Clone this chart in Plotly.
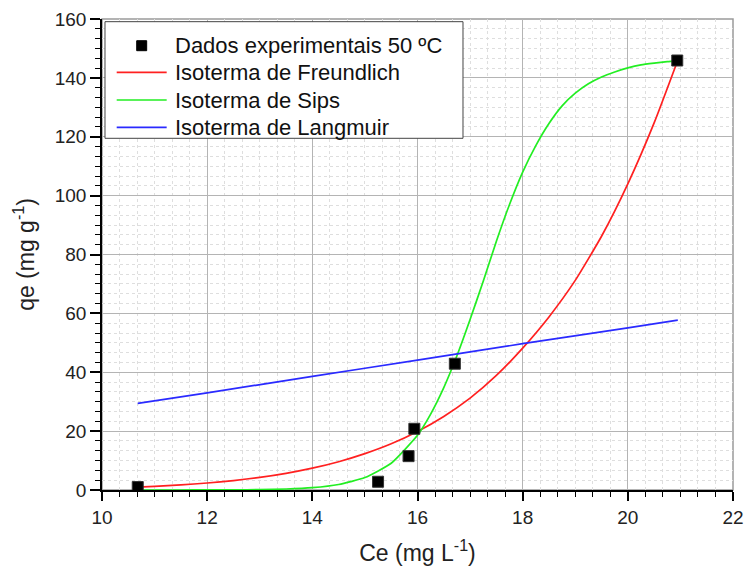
import plotly.graph_objects as go

# Experimental data (50 ºC)
ce_exp = [10.68, 15.25, 15.83, 15.94, 16.71, 20.94]
qe_exp = [1.0, 2.8, 11.5, 20.8, 42.9, 145.9]

# Freundlich fit
ce_fr = [10.68, 11.0, 11.5, 12.0, 12.5, 13.0, 13.5, 14.0, 14.5, 15.0, 15.5, 16.0,
         16.5, 17.0, 17.5, 18.0, 18.5, 19.0, 19.5, 20.0, 20.5, 20.95]
qe_fr = [1.0, 1.24, 1.73, 2.37, 3.21, 4.28, 5.66, 7.41, 9.61, 12.35, 15.7, 19.9,
         25.0, 31.2, 38.9, 48.2, 58.8, 71.2, 86.2, 104.0, 124.7, 146.0]

# Sips fit
ce_sips = [10.68, 11.0, 11.5, 12.0, 12.5, 13.0, 13.5, 14.0, 14.5, 15.0, 15.5, 16.0,
           16.25, 16.5, 16.75, 17.0, 17.25, 17.5, 17.75, 18.0, 18.25, 18.5, 18.75,
           19.0, 19.25, 19.5, 19.75, 20.0, 20.25, 20.5, 20.75, 20.95]
qe_sips = [0.0, 0.0, 0.0, 0.02, 0.05, 0.13, 0.34, 0.79, 1.86, 4.23, 9.1, 18.6,
           25.8, 34.8, 45.6, 57.9, 70.9, 84.5, 97.0, 108.0, 117.0, 124.5, 130.5,
           134.8, 138.0, 140.3, 142.0, 143.4, 144.4, 145.0, 145.5, 145.8]

# Langmuir fit
ce_lang = [10.68, 12.0, 14.0, 16.0, 18.0, 20.0, 20.95]
qe_lang = [29.4, 33.0, 38.6, 44.1, 49.7, 55.1, 57.7]

# Legend labels and colours
legend_labels = ["Dados experimentais 50 ºC", "Isoterma de Freundlich",
                 "Isoterma de Sips", "Isoterma de Langmuir"]
legend_colors = ["black", "#ff2020", "#22ee22", "#2a2aff"]

FONT = "Liberation Sans, Arial, sans-serif"

fig = go.Figure()
fig.add_trace(go.Scatter(x=ce_fr, y=qe_fr, mode="lines", name=legend_labels[1],
                         line=dict(color=legend_colors[1], width=1.7, shape="spline", smoothing=0.5)))
fig.add_trace(go.Scatter(x=ce_sips, y=qe_sips, mode="lines", name=legend_labels[2],
                         line=dict(color=legend_colors[2], width=1.7, shape="spline", smoothing=0.5)))
fig.add_trace(go.Scatter(x=ce_lang, y=qe_lang, mode="lines", name=legend_labels[3],
                         line=dict(color=legend_colors[3], width=1.7, shape="spline", smoothing=0.5)))
fig.add_trace(go.Scatter(x=ce_exp, y=qe_exp, mode="markers", name=legend_labels[0],
                         marker=dict(symbol="square", size=11, color="black",
                                     line=dict(color="#333", width=1))))

axis_common = dict(
    showline=True, linecolor="black", linewidth=1.5,
    ticks="outside", tickwidth=1.5, tickcolor="black",
    showgrid=True, gridcolor="#b4b4b4", gridwidth=1,
    zeroline=False, ticklabeloverflow="allow", automargin=False,
    tickfont=dict(family=FONT, size=19, color="#222"),
)

minor_common = dict(ticks="outside", ticklen=5, tickwidth=1.2, tickcolor="black",
                    showgrid=True, gridcolor="#dedede", griddash="3px,3px", gridwidth=1)

fig.update_xaxes(
    range=[10, 22], tick0=10, dtick=2, ticklen=9,
    title=dict(text="Ce (mg L<sup>-1</sup>)", font=dict(family=FONT, size=23, color="#222"), standoff=22),
    minor=dict(tick0=10, dtick=2/6, **minor_common),
    **axis_common,
)
fig.update_yaxes(
    range=[0, 160], tick0=0, dtick=20, ticklen=10,
    title=dict(text="qe (mg g<sup>-1</sup>)", font=dict(family=FONT, size=23, color="#222"), standoff=14),
    minor=dict(tick0=0, dtick=20/6, **minor_common),
    **axis_common,
)

# gray frame on top and right edges of the plotting area
fig.add_shape(type="rect", xref="x domain", yref="y domain", x0=0, x1=1, y0=0, y1=1,
              line=dict(color="#9a9a9a", width=1.5), layer="below")

# Legend box (drawn manually for tight row spacing like the original)
fig.add_shape(type="rect", xref="paper", yref="paper", x0=0.00475, x1=0.5721,
              y0=0.7467, y1=0.9943, line=dict(color="#444", width=1),
              fillcolor="white", layer="above")
row_y = [0.9433, 0.8868, 0.8280, 0.7701]
for i, (lab, col) in enumerate(zip(legend_labels, legend_colors)):
    if i == 0:
        fig.add_shape(type="rect", xref="paper", yref="paper",
                      x0=0.0550, x1=0.0708, y0=row_y[0] - 0.0106, y1=row_y[0] + 0.0106,
                      line=dict(color="black", width=1), fillcolor="black", layer="above")
    else:
        fig.add_shape(type="line", xref="paper", yref="paper",
                      x0=0.0233, x1=0.1025, y0=row_y[i], y1=row_y[i],
                      line=dict(color=col, width=1.7), layer="above")
    fig.add_annotation(xref="paper", yref="paper", x=0.1125, y=row_y[i],
                       xanchor="left", yanchor="middle", showarrow=False,
                       text=lab, font=dict(family=FONT, size=22, color="#111"))

fig.update_layout(
    width=744, height=566,
    margin=dict(l=102, r=11, t=19, b=76),
    plot_bgcolor="white", paper_bgcolor="white",
    font=dict(family=FONT, color="#222"),
    showlegend=False,
)

fig.write_html("out.html")
